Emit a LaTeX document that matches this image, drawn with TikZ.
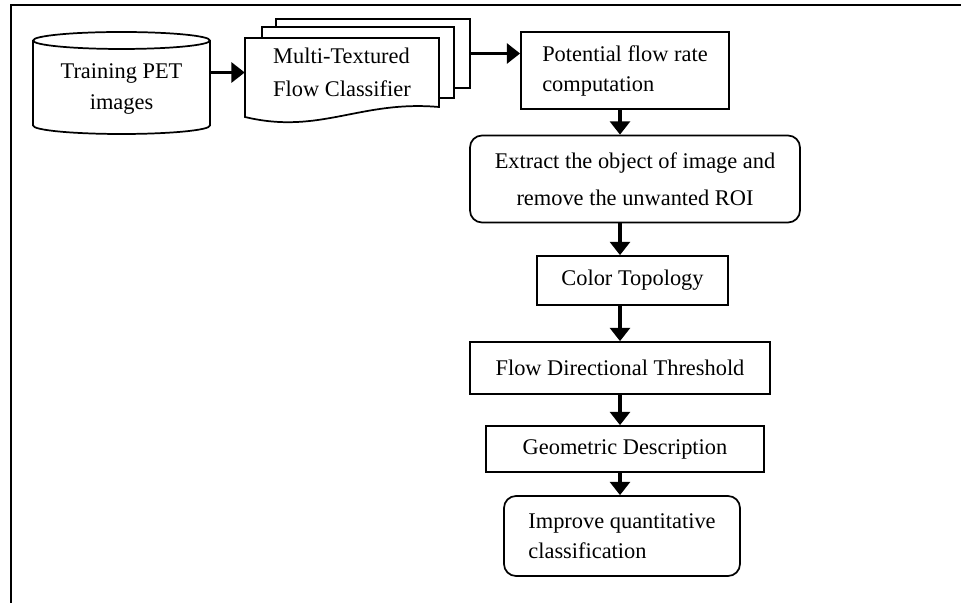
\documentclass[tikz,border=0pt]{standalone}
\usepackage{fontspec}
\setmainfont{Liberation Serif}
\usetikzlibrary{shapes.geometric, arrows.meta, positioning, calc}

\begin{document}
\begin{tikzpicture}[
    x=0.75pt, y=-0.75pt,
    every node/.style={font=\fontsize{16.8}{22.5}\selectfont},
    box/.style={draw, line width=1.3pt, fill=white},
    roundbox/.style={box, rounded corners=9pt},
    page/.style={draw, line width=1.3pt, fill=white},
    arrow/.style={-{Triangle[length=10pt, width=15pt]}, line width=2.3pt}
]

\useasboundingbox (0,0) rectangle (961,603);

% Frame
\draw[line width=1.5pt] (961,5) -- (11,5) -- (11,603);

% Input
\node[cylinder, shape border rotate=90, aspect=0.13, draw, line width=1.3pt, minimum width=177*0.75pt, minimum height=102*0.75pt, align=center, font=\fontsize{16.8}{23.5}\selectfont] (train) at (121.5,89) {Training PET\\images};

% Classifier stack
\node[page, minimum width=194*0.75pt, minimum height=69*0.75pt] (page3) at (373,53.5) {};
\node[page, minimum width=192*0.75pt, minimum height=71*0.75pt] (page2) at (358,62.5) {};
\draw[page] (245,38) -- (439,38) -- (439,107) .. controls (360,100) and (320,135) .. (245,117) -- cycle;
\node[align=left, minimum width=194*0.75pt, minimum height=69*0.75pt, font=\fontsize{16.8}{24.75}\selectfont] (classif) at (342,72.5) {Multi-Textured\\Flow Classifier};

% Pipeline
\node[box, align=left, minimum width=208*0.75pt, minimum height=77*0.75pt] (pot) at (625,70.5) {Potential flow rate\\computation};
\node[roundbox, align=center, minimum width=330*0.75pt, minimum height=87*0.75pt, font=\fontsize{16.8}{27.75}\selectfont] (ext) at (635,179) {Extract the object of image and\\remove the unwanted ROI};
\node[box, minimum width=191*0.75pt, minimum height=49*0.75pt] (color) at (632.5,280.5) {Color Topology};
\node[box, minimum width=300*0.75pt, minimum height=52*0.75pt] (flow) at (620,368) {Flow Directional Threshold};
\node[box, minimum width=278*0.75pt, minimum height=46*0.75pt] (geom) at (625,449) {Geometric Description};
\node[roundbox, align=left, minimum width=236*0.75pt, minimum height=80*0.75pt] (imp) at (622,536) {Improve quantitative\\classification};

% Arrows
\coordinate (spine) at (620,0);
\draw[arrow] (classif.west -| train.east) -- (classif.west);
\draw[arrow] (page3.east) -- (page3.east -| pot.west);
\draw[arrow] (pot.south -| spine) -- (ext.north -| spine);
\draw[arrow] (ext.south -| spine) -- (color.north -| spine);
\draw[arrow] (color.south -| spine) -- (flow.north -| spine);
\draw[arrow] (flow.south -| spine) -- (geom.north -| spine);
\draw[arrow] (geom.south -| spine) -- (imp.north -| spine);

\end{tikzpicture}
\end{document}
